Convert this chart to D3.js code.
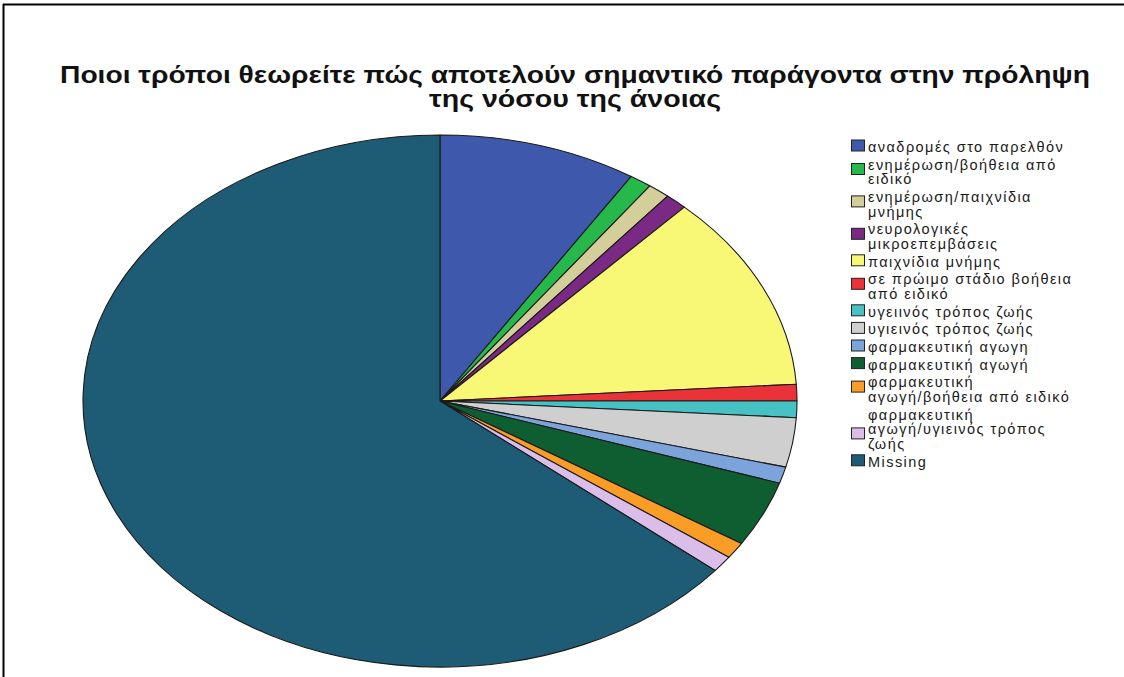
<!DOCTYPE html>
<html>
<head>
<meta charset="utf-8">
<script src="https://cdn.jsdelivr.net/npm/d3@7"></script>
<style>
  html, body { margin: 0; padding: 0; background: #fff; }
  svg { display: block; }
</style>
</head>
<body>
<svg id="chart" width="1124" height="677"></svg>
<script>
// Survey answers (counts) with legend labels; "\n" marks a legend line break
const categories = [
  "αναδρομές στο παρελθόν",
  "ενημέρωση/βοήθεια από\nειδικό",
  "ενημέρωση/παιχνίδια\nμνήμης",
  "νευρολογικές\nμικροεπεμβάσεις",
  "παιχνίδια μνήμης",
  "σε πρώιμο στάδιο βοήθεια\nαπό ειδικό",
  "υγειινός τρόπος ζωής",
  "υγιεινός τρόπος ζωής",
  "φαρμακευτική αγωγη",
  "φαρμακευτική αγωγή",
  "φαρμακευτική\nαγωγή/βοήθεια από ειδικό",
  "φαρμακευτική\nαγωγή/υγιεινός τρόπος\nζωής",
  "Missing"
];
const counts = [9, 1, 1, 1, 12, 1, 1, 3, 1, 4, 1, 1, 64];
const sliceColors = [
  "#3e58ab", "#26b84a", "#d4cf9a", "#7a2a84", "#f9f776", "#ea3338",
  "#47c2c4", "#cfcfcf", "#7da4da", "#0f5e31", "#f99d27", "#dbbdea", "#1d5c74"
];
const titleLines = [
  "Ποιοι τρόποι θεωρείτε πώς αποτελούν σημαντικό παράγοντα στην πρόληψη",
  "της νόσου της άνοιας"
];

const data = categories.map((c, i) => ({ label: c, value: counts[i], color: sliceColors[i] }));
const svg = d3.select("#chart");

// frame lines
svg.append("line").attr("x1", 3.5).attr("x2", 3.5).attr("y1", 4).attr("y2", 677)
  .attr("stroke", "#000").attr("stroke-width", 2);
svg.append("line").attr("x1", 3).attr("x2", 1124).attr("y1", 4.5).attr("y2", 4.5)
  .attr("stroke", "#000").attr("stroke-width", 2);

// title
const titleWidths = [1030, 292];
const titleY = [83, 107];
titleLines.forEach((t, i) => {
  svg.append("text")
    .attr("x", 575).attr("y", titleY[i])
    .attr("text-anchor", "middle")
    .attr("font-family", "Liberation Sans, Arial, sans-serif")
    .attr("font-weight", "bold")
    .attr("font-size", 23)
    .attr("textLength", titleWidths[i])
    .attr("lengthAdjust", "spacingAndGlyphs")
    .attr("fill", "#111")
    .text(t);
});

// pie, drawn on a unit circle and stretched to an ellipse
const cx = 440, cy = 401, rx = 357, ry = 266, R = 100;
const pie = d3.pie().value(d => d.value).sort(null);
const arc = d3.arc().innerRadius(0).outerRadius(R);
const g = svg.append("g")
  .attr("transform", `translate(${cx},${cy}) scale(${rx / R},${ry / R})`);
g.selectAll("path")
  .data(pie(data))
  .join("path")
  .attr("d", arc)
  .attr("fill", d => d.data.color)
  .attr("stroke", "#1a1a1a")
  .attr("stroke-width", 1.1)
  .attr("stroke-linejoin", "round")
  .attr("vector-effect", "non-scaling-stroke");

// legend
const lg = svg.append("g");
const lineH = 14.8, itemGap = 17.6;
let yLine = 147;
data.forEach((d, i) => {
  const lines = d.label.split("\n");
  const first = yLine;
  const last = first + (lines.length - 1) * lineH;
  const mid = (first + last) / 2 - (lines.length === 2 ? 3 : (lines.length === 3 ? -4 : 1.5));
  lg.append("rect")
    .attr("x", 851.5).attr("y", mid - 5.5)
    .attr("width", 13).attr("height", 11)
    .attr("fill", d.color)
    .attr("stroke", "#222").attr("stroke-width", 1);
  const t = lg.append("text")
    .attr("font-family", "Liberation Sans, Arial, sans-serif")
    .attr("font-size", 14.5)
    .attr("letter-spacing", 1.45)
    .attr("fill", "#1a1a1a");
  lines.forEach((ln, k) => {
    t.append("tspan")
      .attr("x", 868)
      .attr("y", first + k * lineH + 5)
      .text(ln);
  });
  yLine = last + itemGap;
});
</script>
</body>
</html>
